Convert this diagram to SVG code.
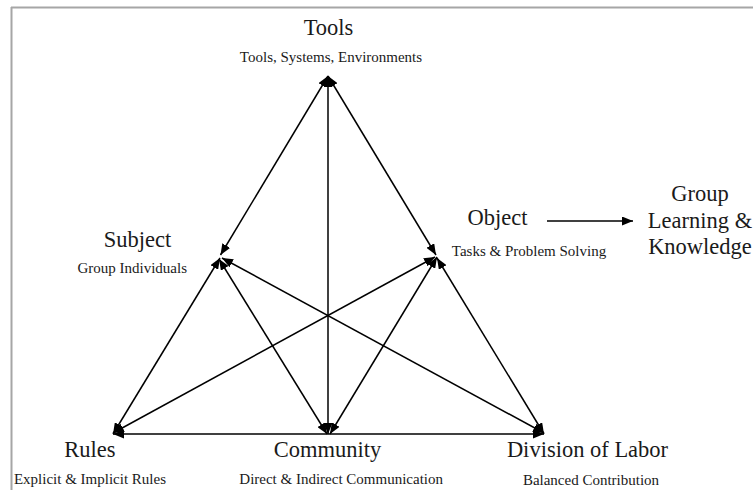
<svg xmlns="http://www.w3.org/2000/svg" width="753" height="490" viewBox="0 0 753 490">
<style>
text{font-family:'Liberation Serif','Times New Roman',Times,serif;fill:#1a1a1a}
.t{font-size:22.5px}
.s{font-size:15px}
.c line{stroke:#000;stroke-width:1.5;marker-start:url(#a);marker-end:url(#a)}
</style>
<defs>
<marker id="a" markerUnits="userSpaceOnUse" markerWidth="12" markerHeight="9" refX="11" refY="4.5" orient="auto-start-reverse" viewBox="0 0 12 9">
<path d="M0,0 L11,4.5 L0,9 Z" fill="#000"/>
</marker>
</defs>
<rect width="753" height="490" fill="#fff"/>
<g id="frame" stroke="#a6a6a6" stroke-width="2" fill="none">
<line x1="11" y1="7.5" x2="753" y2="7.5"/>
<line x1="11.5" y1="7" x2="11.5" y2="490"/>
</g>
<g class="c" id="connectors">
<line x1="220.5" y1="255" x2="328" y2="76"/>
<line x1="436" y1="255" x2="328" y2="76"/>
<line x1="328" y1="434" x2="328" y2="76"/>
<line x1="220" y1="258" x2="113" y2="434"/>
<line x1="437" y1="258" x2="544" y2="434"/>
<line x1="113" y1="434" x2="544" y2="434"/>
<line x1="219" y1="259" x2="327" y2="434"/>
<line x1="437" y1="257" x2="330" y2="434"/>
<line x1="222" y1="258" x2="544" y2="433"/>
<line x1="435" y1="257" x2="113" y2="433"/>
<line x1="547" y1="221" x2="633" y2="221" style="marker-start:none"/>
</g>
<g id="tools" font-family="'Liberation Serif', serif"><text class="t" x="328.5" y="35" text-anchor="middle" font-family="'Liberation Serif', serif">Tools</text><text class="s" x="331" y="62" text-anchor="middle" font-family="'Liberation Serif', serif">Tools, Systems, Environments</text></g>
<g id="subject"><text class="t" x="137.5" y="247" text-anchor="middle" font-family="'Liberation Serif', serif">Subject</text><text class="s" x="187" y="273" text-anchor="end" font-family="'Liberation Serif', serif">Group Individuals</text></g>
<g id="object"><text class="t" x="497.5" y="225" text-anchor="middle" font-family="'Liberation Serif', serif">Object</text><text class="s" x="529" y="256" text-anchor="middle" font-family="'Liberation Serif', serif">Tasks &amp; Problem Solving</text></g>
<g id="outcome"><text class="t" x="700" y="201" text-anchor="middle" font-family="'Liberation Serif', serif">Group</text><text class="t" x="700" y="228" text-anchor="middle" font-family="'Liberation Serif', serif">Learning &amp;</text><text class="t" x="700" y="254" text-anchor="middle" font-family="'Liberation Serif', serif">Knowledge</text></g>
<g id="rules"><text class="t" x="90" y="457" text-anchor="middle" font-family="'Liberation Serif', serif">Rules</text><text class="s" x="90" y="484" text-anchor="middle" font-family="'Liberation Serif', serif">Explicit &amp; Implicit Rules</text></g>
<g id="community"><text class="t" x="327.5" y="457" text-anchor="middle" font-family="'Liberation Serif', serif">Community</text><text class="s" x="443" y="484" text-anchor="end" font-family="'Liberation Serif', serif">Direct &amp; Indirect Communication</text></g>
<g id="division"><text class="t" x="587.5" y="457" text-anchor="middle" font-family="'Liberation Serif', serif">Division of Labor</text><text class="s" x="591" y="485" text-anchor="middle" font-family="'Liberation Serif', serif">Balanced Contribution</text></g>
</svg>
